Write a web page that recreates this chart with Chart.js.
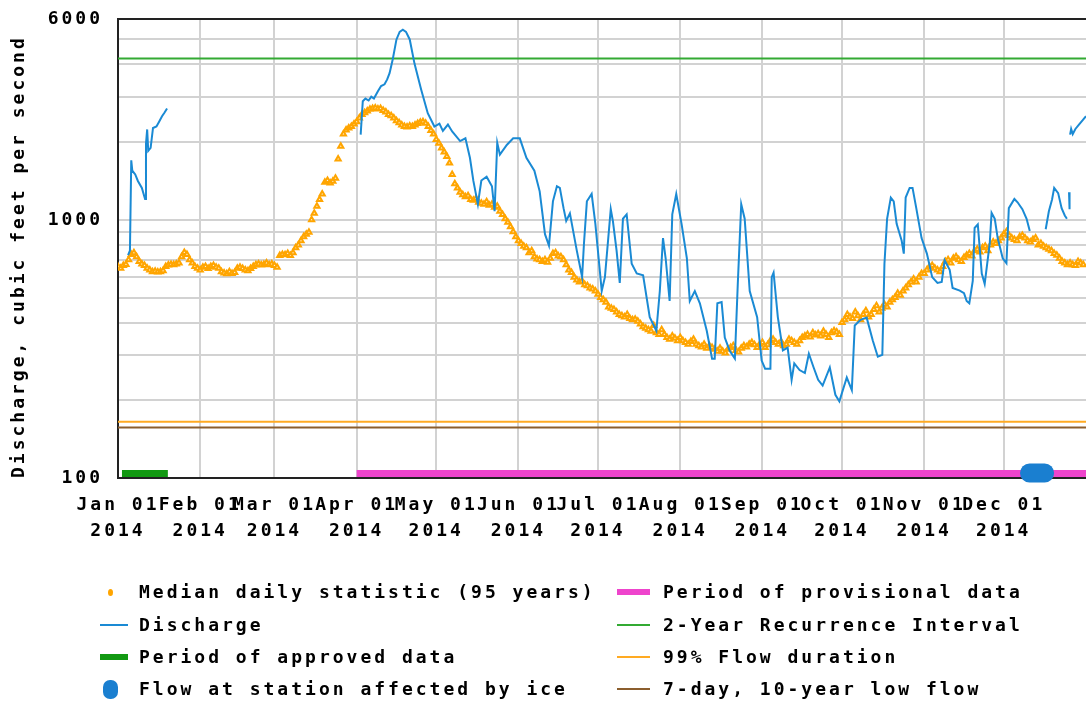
<!DOCTYPE html>
<html>
<head>
<meta charset="utf-8">
<title>Discharge 2014</title>
<script src="https://cdn.jsdelivr.net/npm/chart.js@4.4.1/dist/chart.umd.min.js"></script>
<style>
  html, body { margin: 0; padding: 0; background: #fff; }
  #wrap { position: relative; width: 1086px; height: 704px; overflow: hidden; }
  #chart { position: absolute; left: 0; top: 0; }
  #legend {
    position: absolute; left: 0; top: 0; width: 1086px; height: 704px; pointer-events: none;
    font-family: 'DejaVu Sans Mono', monospace; font-weight: bold; font-size: 18px;
    letter-spacing: 3px; color: #000;
  }
  .lg-text { position: absolute; white-space: nowrap; line-height: 20px; }
  .lg-sym { position: absolute; }
</style>
</head>
<body>
<div id="wrap">
  <canvas id="chart" width="1086" height="548"></canvas>
  <div id="legend"></div>
</div>
<script>
// Axis labels
const monthNames = ['Jan', 'Feb', 'Mar', 'Apr', 'May', 'Jun', 'Jul', 'Aug', 'Sep', 'Oct', 'Nov', 'Dec'];
const monthStartDays = [0, 31, 59, 90, 120, 151, 181, 212, 243, 273, 304, 334];
const yearLabel = '2014';
const yTickValues = [100, 200, 300, 400, 500, 600, 700, 800, 900, 1000, 2000, 3000, 4000, 5000, 6000];
const yLabelledTicks = [100, 1000, 6000];

// Median daily statistic (95 years), one value per day of 2014, cfs
const medianFlow = [
  // Jan
  660, 650, 665, 672, 700, 735, 745, 720, 690, 675, 665, 650, 640, 630, 632, 628,
  630, 635, 660, 668, 672, 670, 675, 680, 720, 748, 735, 700, 680, 660, 650,
  // Feb
  640, 655, 660, 648, 660, 665, 655, 650, 630, 622, 618, 630, 620, 625,
  650, 655, 648, 640, 635, 648, 660, 670, 675, 668, 672, 680, 670, 675,
  // Mar
  665, 655, 728, 735, 732, 740, 728, 745, 780, 800, 830, 860, 880, 895, 1000, 1060,
  1130, 1200, 1260, 1400, 1420, 1390, 1410, 1450, 1720, 1930, 2150, 2230, 2270, 2300, 2350,
  // Apr
  2400, 2480, 2560, 2600, 2640, 2680, 2700, 2710, 2690, 2700, 2650, 2620, 2560, 2530, 2480,
  2420, 2380, 2330, 2300, 2290, 2310, 2300, 2330, 2360, 2390, 2400, 2370, 2300, 2220, 2150,
  // May
  2050, 1980, 1900, 1830, 1760, 1660, 1500, 1380, 1330, 1280, 1250, 1230, 1240, 1200, 1190, 1210,
  1170, 1160, 1150, 1175, 1140, 1150, 1120, 1130, 1080, 1050, 1010, 980, 940, 900, 860,
  // Jun
  830, 810, 790, 780, 745, 760, 720, 705, 700, 690, 700, 685, 710, 740, 745,
  725, 720, 700, 670, 640, 625, 600, 585, 575, 580, 560, 555, 545, 540, 530,
  // Jul
  515, 500, 490, 480, 460, 455, 450, 440, 430, 425, 420, 430, 415, 410, 412, 405,
  395, 385, 380, 375, 370, 390, 365, 360, 375, 360, 350, 345, 355, 348, 340,
  // Aug
  350, 340, 335, 330, 338, 345, 330, 325, 322, 330, 318, 325, 320, 315, 310, 318,
  310, 305, 315, 320, 325, 312, 308, 318, 325, 322, 330, 335, 328, 320, 330,
  // Sep
  335, 320, 328, 340, 345, 335, 330, 338, 325, 330, 345, 340, 335, 330, 340,
  350, 355, 360, 352, 365, 358, 362, 355, 370, 360, 350, 365, 372, 368, 360,
  // Oct
  400, 410, 430, 420, 415, 440, 425, 410, 430, 445, 420, 430, 450, 465, 440, 455,
  470, 460, 480, 490, 500, 520, 510, 530, 545, 560, 575, 590, 575, 600, 620,
  // Nov
  620, 640, 660, 665, 650, 640, 630, 660, 690, 700, 680, 710, 720, 700, 690,
  715, 730, 740, 725, 760, 770, 750, 780, 790, 760, 800, 820, 810, 830, 850,
  // Dec
  880, 900, 870, 850, 840, 830, 860, 870, 850, 830, 820, 840, 850, 800, 810, 790,
  780, 770, 760, 740, 730, 710, 690, 680, 670, 680, 670, 665, 690, 680, 670
];

// Discharge readings: [day of year (Jan 1 = 0), cfs]; null = no data
const dischargeReadings = [
  [3.8, 730], [4.5, 760], [5.0, 1700], [5.4, 1550], [6.5, 1500], [7.5, 1415], [9, 1330],
  [10.2, 1205], [10.55, 1970], [11.0, 2240], [11.4, 1850], [12.3, 1900], [13.2, 2270],
  [14.5, 2300], [15.5, 2400], [16.6, 2520], [17.5, 2600], [18.5, 2700],
  [19, null],
  [91.5, 2140], [92.3, 2880], [93.3, 2950], [94.5, 2900], [95.5, 3000], [96.5, 2950],
  [98, 3150], [99.2, 3300], [100.5, 3350], [101.5, 3500], [102.4, 3700], [103.6, 4190],
  [105, 5000], [106.2, 5350], [107.4, 5450], [108.6, 5350], [110, 5000], [111.8, 4030],
  [114.3, 3200], [116.8, 2590], [119.3, 2300], [121.2, 2360], [122.5, 2210], [124.4, 2340],
  [126, 2200], [129, 2020], [131, 2070], [132.7, 1740], [134, 1415], [135.7, 1150],
  [137, 1420], [139, 1470], [141, 1350], [142, 1080], [143, 1990], [144, 1790],
  [146.6, 1950], [149, 2070], [151.5, 2070], [154, 1740], [157, 1550], [159, 1290],
  [161, 880], [162.5, 795], [164, 1180], [165.5, 1350], [166.6, 1330], [168, 1110],
  [169, 990], [170.4, 1060], [173, 760], [175, 600], [175.7, 810], [176.8, 1180],
  [178.6, 1260], [180, 965], [182.4, 530], [183.6, 600], [185.8, 1100], [186.6, 990],
  [188, 760], [189.2, 570], [190.4, 1010], [191.8, 1050], [193.7, 676], [195.6, 620],
  [198, 610], [200.5, 420], [203, 372], [204.3, 530], [205.5, 850], [206.5, 710],
  [208, 485], [209, 1050], [210.5, 1260], [212.5, 965], [214.5, 710], [215.6, 485],
  [217.5, 530], [219.4, 475], [222, 372], [224, 290], [225, 290], [226, 475],
  [227.6, 480], [228.8, 350], [230.6, 312], [232.6, 290], [233.7, 565], [235, 1150],
  [236.3, 1010], [238.2, 530], [241, 420], [242.7, 285], [244, 265], [246, 265],
  [246.5, 600], [247.2, 625], [248.8, 420], [250.7, 312], [252.5, 320], [254, 240],
  [255, 278], [257, 262], [259, 255], [260.5, 303], [262.3, 268], [264, 240],
  [265.7, 228], [268.4, 268], [270.5, 210], [272, 198], [274.8, 245], [276.7, 219],
  [277.8, 390], [280, 410], [282.3, 418], [284.6, 341], [286.5, 295], [288.2, 300],
  [289, 676], [290, 1010], [291.4, 1220], [292.5, 1180], [293.6, 965], [295.5, 830],
  [296.3, 740], [297, 1220], [298.5, 1330], [299.6, 1330], [301, 1110], [303, 850],
  [305, 740], [307, 600], [309, 570], [310.6, 575], [311.7, 697], [313.6, 640],
  [314.7, 545], [317.4, 532], [319, 520], [320, 485], [321, 475], [322.3, 580],
  [323, 930], [324.2, 960], [325.7, 620], [326.8, 565], [328.7, 810], [329.4, 1065],
  [330.6, 1010], [331.7, 850], [333.6, 710], [335, 680], [335.9, 1110], [338, 1205],
  [339.2, 1170], [341, 1100], [342.6, 1010], [343.8, 905],
  [345, null],
  [349.8, 920], [351, 1080], [352.2, 1200], [353, 1330], [354.5, 1270], [355.8, 1110],
  [357, 1040], [357.8, 1010],
  [358.2, null],
  [358.6, 1280], [358.8, 1100],
  [358.9, null],
  [359, 2140], [359.4, 2250], [360, 2150], [361, 2250], [362.5, 2350], [364, 2450], [365, 2520]
];

// Periods (day of year) shown along the bottom of the plot
const approvedPeriod = [1.5, 18.8];
const provisionalPeriod = [90, 365];
const icePeriod = [343.7, 349.4];
const periodLevel = 104;
const iceLevel = 104.5;

// Reference flows, cfs
const recurrence2yr = 4220;
const flowDuration99 = 165;
const lowFlow7q10 = 157;

const FONT = "'DejaVu Sans Mono', monospace";

function flatLine(value) {
    return [{ x: 0, y: value }, { x: 365, y: value }];
}

function period(range, level) {
    return range.map(d => ({ x: d, y: level }));
}

// Letter spacing for the wide monospace look of the original
const monoSpacing = {
    id: 'monoSpacing',
    beforeUpdate(chart) { chart.ctx.letterSpacing = '3px'; },
    beforeDraw(chart) { chart.ctx.letterSpacing = '3px'; }
};

// Dark frame on top, left and bottom of the plot
const plotFrame = {
    id: 'plotFrame',
    beforeDatasetsDraw(chart) {
        const { ctx, chartArea: a } = chart;
        ctx.save();
        ctx.strokeStyle = '#222';
        ctx.lineWidth = 2;
        ctx.beginPath();
        ctx.moveTo(a.right, a.top);
        ctx.lineTo(a.left, a.top);
        ctx.lineTo(a.left, a.bottom);
        ctx.lineTo(a.right, a.bottom);
        ctx.stroke();
        ctx.restore();
    }
};

// Two-column legend under the chart, built from the datasets
const htmlLegend = {
    id: 'htmlLegend',
    afterUpdate(chart) {
        const box = document.getElementById('legend');
        box.innerHTML = '';
        const rowY = [592, 625, 657, 689];
        const textX = [139, 663];
        const symX = [100, 617];
        const symW = [28, 33];
        chart.data.datasets.forEach((ds, i) => {
            const col = i < 4 ? 0 : 1;
            const y = rowY[i % 4];
            const sym = document.createElement('div');
            sym.className = 'lg-sym';
            let w = symW[col], h = 2, x = symX[col], radius = '0';
            if (ds.legendSymbol === 'bar') h = 6;
            if (ds.legendSymbol === 'dot') { w = 5; h = 7; x = 108; radius = '50%'; }
            if (ds.legendSymbol === 'blob') { w = 15; h = 19; x = 103; radius = '7px'; }
            sym.style.cssText = `left:${x}px;top:${y - h / 2}px;width:${w}px;height:${h}px;` +
                `background:${ds.borderColor};border-radius:${radius};`;
            box.appendChild(sym);

            const txt = document.createElement('div');
            txt.className = 'lg-text';
            txt.style.left = textX[col] + 'px';
            txt.style.top = (y - 10) + 'px';
            txt.textContent = ds.label;
            box.appendChild(txt);
        });
    }
};

const ctx = document.getElementById('chart').getContext('2d');

new Chart(ctx, {
    type: 'line',
    data: {
        datasets: [
            {
                label: 'Median daily statistic (95 years)',
                data: medianFlow.map((v, i) => ({ x: i, y: v })),
                showLine: false,
                pointStyle: 'triangle',
                pointRadius: 3,
                pointBorderWidth: 2,
                pointBackgroundColor: '#fff3dd',
                borderColor: '#ffa500',
                backgroundColor: '#ffa500',
                order: 2,
                legendSymbol: 'dot'
            },
            {
                label: 'Discharge',
                data: dischargeReadings.map(([d, v]) => ({ x: d, y: v })),
                borderColor: '#1a8ad4',
                borderWidth: 2,
                pointRadius: 0,
                tension: 0,
                order: 1,
                legendSymbol: 'line'
            },
            {
                label: 'Period of approved data',
                data: period(approvedPeriod, periodLevel),
                borderColor: '#129912',
                borderWidth: 7,
                pointRadius: 0,
                order: 3,
                legendSymbol: 'bar'
            },
            {
                label: 'Flow at station affected by ice',
                data: period(icePeriod, iceLevel),
                borderColor: '#1a7fd0',
                borderWidth: 19,
                borderCapStyle: 'round',
                pointRadius: 0,
                clip: false,
                order: 0,
                legendSymbol: 'blob'
            },
            {
                label: 'Period of provisional data',
                data: period(provisionalPeriod, periodLevel),
                borderColor: '#ee44cc',
                borderWidth: 7,
                pointRadius: 0,
                order: 3,
                legendSymbol: 'bar'
            },
            {
                label: '2-Year Recurrence Interval',
                data: flatLine(recurrence2yr),
                borderColor: '#33aa33',
                borderWidth: 2,
                pointRadius: 0,
                order: 4,
                legendSymbol: 'line'
            },
            {
                label: '99% Flow duration',
                data: flatLine(flowDuration99),
                borderColor: '#ffaa22',
                borderWidth: 2,
                pointRadius: 0,
                order: 4,
                legendSymbol: 'line'
            },
            {
                label: '7-day, 10-year low flow',
                data: flatLine(lowFlow7q10),
                borderColor: '#8b5e2e',
                borderWidth: 2,
                pointRadius: 0,
                order: 4,
                legendSymbol: 'line'
            }
        ]
    },
    options: {
        responsive: false,
        animation: false,
        devicePixelRatio: 1,
        layout: { autoPadding: false, padding: { top: 19, right: 0, bottom: 0, left: 0 } },
        plugins: {
            legend: { display: false },
            tooltip: { enabled: false }
        },
        scales: {
            x: {
                type: 'linear',
                min: 0,
                max: 365,
                afterBuildTicks(scale) {
                    scale.ticks = monthStartDays.map(v => ({ value: v }));
                },
                afterFit(scale) {
                    scale.height = 70;
                    scale.paddingLeft = 0;
                    scale.paddingRight = 0;
                },
                grid: { color: '#d2d2d2', lineWidth: 2, drawTicks: false },
                border: { display: false },
                ticks: {
                    autoSkip: false,
                    maxRotation: 0,
                    minRotation: 0,
                    padding: 14,
                    color: '#000',
                    font: { family: FONT, size: 18, weight: 'bold', lineHeight: 1.45 },
                    callback: (value, index) => [monthNames[index] + ' 01', yearLabel]
                }
            },
            y: {
                type: 'logarithmic',
                min: 100,
                max: 6000,
                afterBuildTicks(scale) {
                    scale.ticks = yTickValues.map(v => ({ value: v }));
                },
                afterFit(scale) {
                    scale.width = 118;
                    scale.paddingTop = 0;
                    scale.paddingBottom = 0;
                },
                grid: { color: '#d2d2d2', lineWidth: 2, drawTicks: false },
                border: { display: false },
                ticks: {
                    autoSkip: false,
                    padding: 15,
                    color: '#000',
                    font: { family: FONT, size: 18, weight: 'bold' },
                    callback: v => (yLabelledTicks.includes(v) ? String(v) : '')
                },
                title: {
                    display: true,
                    text: 'Discharge, cubic feet per second',
                    align: 'start',
                    color: '#000',
                    font: { family: FONT, size: 18, weight: 'bold' },
                    padding: { top: 9, bottom: 0 }
                }
            }
        }
    },
    plugins: [monoSpacing, plotFrame, htmlLegend]
});
</script>
</body>
</html>
